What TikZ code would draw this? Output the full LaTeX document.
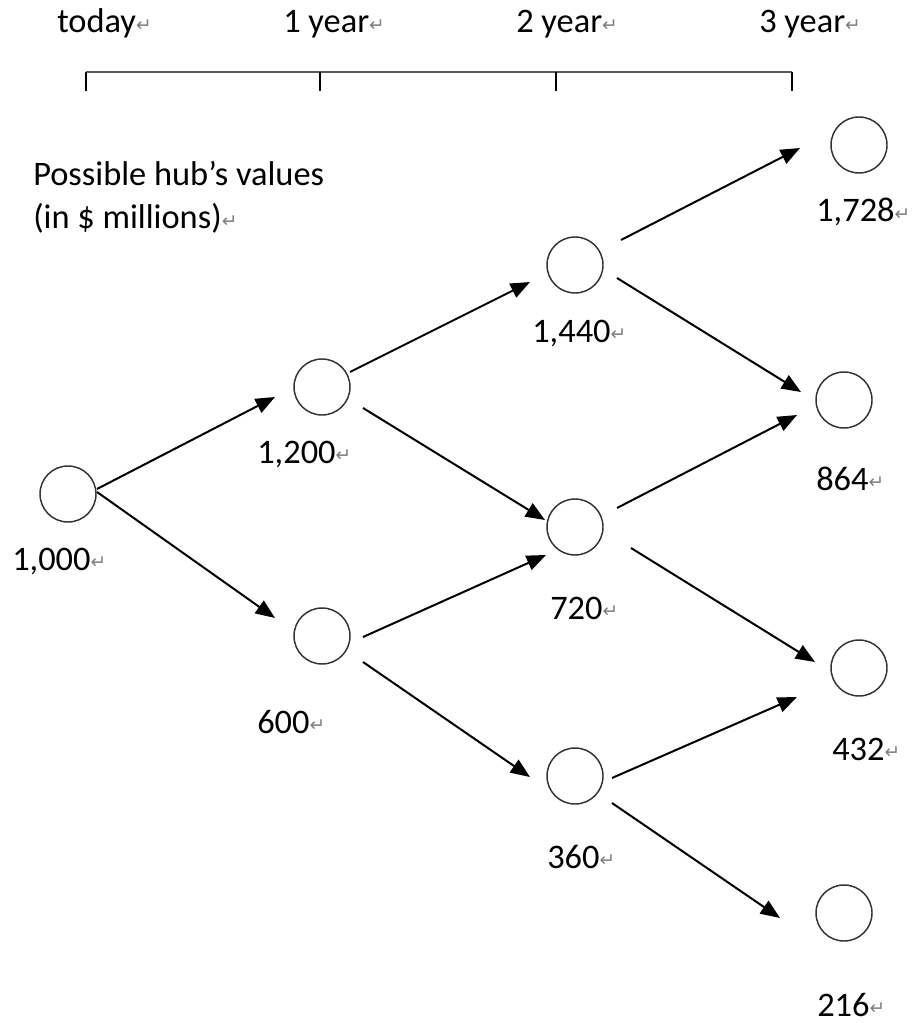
\documentclass[tikz,border=0pt]{standalone}
\usepackage{fontspec}
\setmainfont{Carlito}
\newfontfamily\symfont{DejaVu Sans}
\usetikzlibrary{arrows.meta}
\newcommand\parmark{{\fontsize{14}{14}\selectfont\symfont\color{gray}\raisebox{1pt}{↵}}}
\begin{document}
\begin{tikzpicture}[x=0.75pt,y=-0.75pt,
  state/.style={circle,draw=black!80,line width=1.1pt,minimum size=42pt,inner sep=0pt},
  val/.style={anchor=base west,inner sep=0pt,font=\fontsize{25.8}{32}\selectfont},
  arr/.style={line width=1.5pt,-{Triangle[length=14.5pt,width=11.5pt]}}]
\useasboundingbox (0,0) rectangle (911,1023);

% time axis
\draw[line width=1.9pt,black!65] (86,72) -- (792,72);
\foreach \t in {86,320,556,792}
  \draw[line width=1pt] (\t,72) -- (\t,91);
\node[val] (t0) at (57,33) {today\parmark};
\node[val] (t1) at (283,33) {1 year\parmark};
\node[val] (t2) at (516,33) {2 year\parmark};
\node[val] (t3) at (759,33) {3 year\parmark};

% caption
\node[val] (cap1) at (33,186) {Possible hub’s values};
\node[val] (cap2) at (33,229) {(in \$ millions)\parmark};

% lattice states
\node[state] (n1000) at (68,494) {};
\node[state] (n1200) at (322,387) {};
\node[state] (n600)  at (322,636) {};
\node[state] (n1440) at (575,265) {};
\node[state] (n720)  at (575,527) {};
\node[state] (n360)  at (575,776) {};
\node[state] (n1728) at (859,145) {};
\node[state] (n864)  at (844,400) {};
\node[state] (n432)  at (859,668) {};
\node[state] (n216)  at (844,913) {};

% values
\node[val] (l1000) at (12,570)  {1,000\parmark};
\node[val] (l1200) at (257,463) {1,200\parmark};
\node[val] (l600)  at (257,733) {600\parmark};
\node[val] (l1440) at (532,342) {1,440\parmark};
\node[val] (l720)  at (550,619) {720\parmark};
\node[val] (l360)  at (547,868) {360\parmark};
\node[val] (l1728) at (816,222) {1,728\parmark};
\node[val] (l864)  at (816,490) {864\parmark};
\node[val] (l432)  at (832,760) {432\parmark};
\node[val] (l216)  at (817,1016) {216\parmark};

% up and down moves
\draw[arr] ([shift={(29,-5)}]n1000.center) -- ([shift={(-47,10)}]n1200.center);
\draw[arr] ([shift={(29,-2)}]n1000.center) -- ([shift={(-47,-18)}]n600.center);
\draw[arr] ([shift={(28,-15)}]n1200.center) -- ([shift={(-45,17)}]n1440.center);
\draw[arr] ([shift={(41,21)}]n1200.center) -- ([shift={(-30,-7)}]n720.center);
\draw[arr] ([shift={(41,1)}]n600.center) -- ([shift={(-29,28)}]n720.center);
\draw[arr] ([shift={(41,26)}]n600.center) -- ([shift={(-45,1)}]n360.center);
\draw[arr] ([shift={(46,-25)}]n1440.center) -- ([shift={(-59,3)}]n1728.center);
\draw[arr] ([shift={(42,13)}]n1440.center) -- ([shift={(-43,-8)}]n864.center);
\draw[arr] ([shift={(42,-19)}]n720.center) -- ([shift={(-47,15)}]n864.center);
\draw[arr] ([shift={(56,21)}]n720.center) -- ([shift={(-44,-6)}]n432.center);
\draw[arr] ([shift={(37,2)}]n360.center) -- ([shift={(-62,29)}]n432.center);
\draw[arr] ([shift={(37,27)}]n360.center) -- ([shift={(-64,5)}]n216.center);
\end{tikzpicture}
\end{document}
